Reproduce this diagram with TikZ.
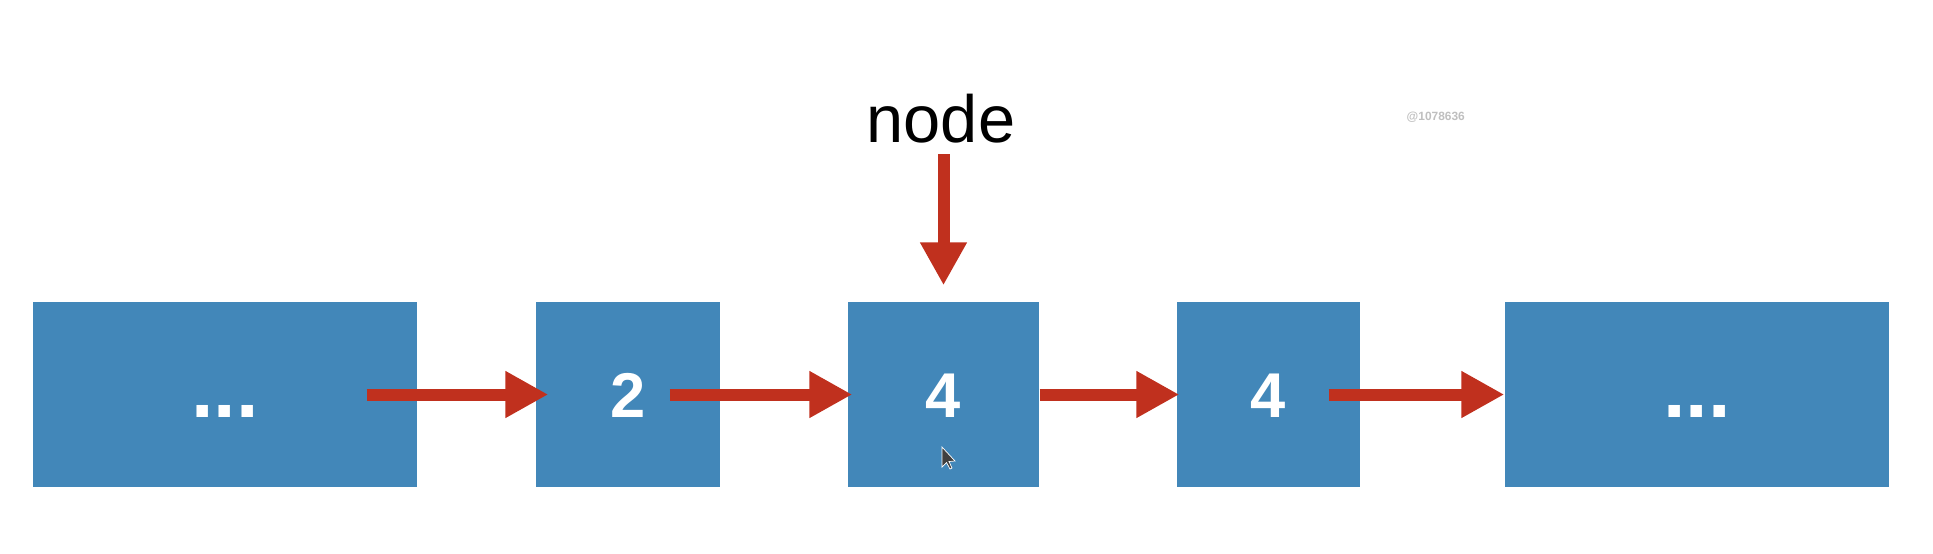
\documentclass[tikz,border=0pt]{standalone}
\usepackage{fontspec}
\setmainfont{Liberation Sans}
\usetikzlibrary{arrows.meta,positioning}
\definecolor{cellblue}{RGB}{66,135,185}
\definecolor{linkred}{RGB}{192,48,30}

\begin{document}
\begin{tikzpicture}[
    x=1cm,y=1cm,
    cell/.style={fill=cellblue, draw=none, minimum height=1.85cm, inner sep=0pt,
      text=white, font=\fontsize{18}{18}\selectfont\bfseries,
      text height=0.46cm, text depth=0pt},
    dots/.style={cell, font=\fontsize{23}{23}\selectfont\bfseries},
    link/.style={-{Triangle[length=0.43cm, width=0.44cm]}, line width=0.12cm, draw=linkred}
  ]
    \useasboundingbox (0,0) rectangle (19.33,5.53);
    \node[dots, minimum width=3.84cm] (prev) at (2.25,1.585) {...};
    \node[cell, minimum width=1.84cm] (n2) at (6.28,1.585) {2};
    \node[cell, minimum width=1.91cm] (cur) at (9.435,1.585) {4};
    \node[cell, minimum width=1.83cm] (n4) at (12.685,1.585) {4};
    \node[dots, minimum width=3.84cm] (rest) at (16.97,1.585) {...};
    \node[anchor=base, inner sep=0pt, font=\fontsize{19}{19}\selectfont] (lbl) at (9.41,4.11) {node};
    \node[anchor=west, inner sep=0pt, text=black!25, font=\fontsize{3.4}{3.4}\selectfont\bfseries] (wm) at (14.06,4.36) {@1078636};

    \draw[link] ([xshift=-0.51cm]prev.east) -- ([xshift=0.13cm]n2.west);
    \draw[link] ([xshift=-0.51cm]n2.east) -- ([xshift=0.05cm]cur.west);
    \draw[link] (cur.east) -- ([xshift=0.03cm]n4.west);
    \draw[link] ([xshift=-0.32cm]n4.east) -- (rest.west);
    \draw[link] ([yshift=-0.11cm]lbl.south -| cur.north) -- ([yshift=0.16cm]cur.north);

    \fill[black!75, draw=white, line width=0.2pt]
      (9.42,1.06) -- (9.42,0.86) -- (9.465,0.905) -- (9.50,0.84) -- (9.52,0.85)
      -- (9.49,0.915) -- (9.55,0.92) -- cycle;
  \end{tikzpicture}
\end{document}
